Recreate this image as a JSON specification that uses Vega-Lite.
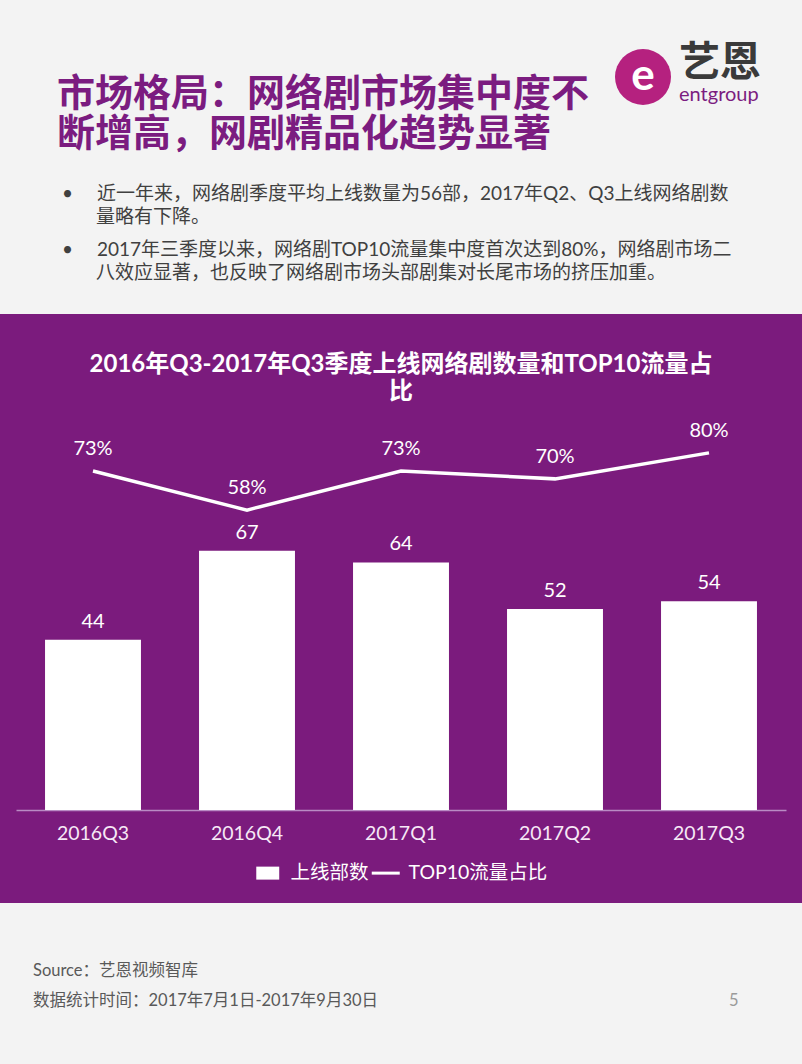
{
  "$schema": "https://vega.github.io/schema/vega-lite/v6.json",
  "background": "#f3f3f3",
  "padding": 0,
  "spacing": 0,
  "config": {
    "view": {"stroke": null, "fill": "#f3f3f3"},
    "title": {"font": "Lato, 'Noto Sans CJK SC'", "fontSize": 19, "fontWeight": "normal", "color": "#404040", "anchor": "start", "frame": "group"}
  },
  "vconcat": [
    {
      "spacing": 0,
      "hconcat": [
        {
          "width": 610,
          "height": 154,
          "data": {"values": [{}]},
          "mark": {"type": "text"},
          "title": {
            "text": ["市场格局：网络剧市场集中度不", "断增高，网剧精品化趋势显著"],
            "font": "Noto Sans CJK SC",
            "fontSize": 38,
            "fontWeight": "bold",
            "color": "#7B1C80",
            "lineHeight": 40,
            "dx": 57,
            "offset": -154
          }
        },
        {
          "width": 66,
          "height": 154,
          "data": {"values": [{"logo": "e"}]},
          "layer": [
            {
              "mark": {"type": "point", "shape": "circle", "filled": true, "size": 3136, "color": "#B5217F", "opacity": 1},
              "encoding": {}
            },
            {
              "mark": {"type": "text", "fontSize": 44, "fontWeight": "bold", "color": "#ffffff", "font": "Lato", "baseline": "middle", "align": "center"},
              "encoding": {"text": {"field": "logo"}}
            }
          ]
        },
        {
          "width": 126,
          "height": 154,
          "data": {"values": [{}]},
          "mark": {"type": "text"},
          "title": {
            "text": "艺恩",
            "subtitle": "entgroup",
            "font": "Noto Sans CJK SC",
            "fontSize": 41,
            "fontWeight": "bold",
            "color": "#3a3a3a",
            "subtitleFont": "Lato",
            "subtitleFontSize": 20,
            "subtitleColor": "#7B1C80",
            "subtitlePadding": 0,
            "dx": 3,
            "offset": -106
          }
        }
      ]
    },
    {
      "width": 802,
      "height": 52,
      "data": {"values": [{}]},
      "mark": {"type": "text"},
      "title": {"text": "•\u00a0\u3000近一年来，网络剧季度平均上线数量为56部，2017年Q2、Q3上线网络剧数", "dx": 62, "offset": -50}
    },
    {
      "width": 802,
      "height": 23,
      "data": {"values": [{}]},
      "mark": {"type": "text"},
      "title": {"text": "量略有下降。", "dx": 96, "offset": -21}
    },
    {
      "width": 802,
      "height": 33,
      "data": {"values": [{}]},
      "mark": {"type": "text"},
      "title": {"text": "•\u00a0\u30002017年三季度以来，网络剧TOP10流量集中度首次达到80%，网络剧市场二", "dx": 62, "offset": -31}
    },
    {
      "width": 802,
      "height": 52,
      "data": {"values": [{}]},
      "mark": {"type": "text"},
      "title": {"text": "八效应显著，也反映了网络剧市场头部剧集对长尾市场的挤压加重。", "dx": 96, "offset": -21}
    },
    {
      "width": 802,
      "height": 589,
      "view": {"fill": "#7B1B7D", "stroke": null},
      "title": {
        "text": ["2016年Q3-2017年Q3季度上线网络剧数量和TOP10流量占", "比"],
        "font": "Lato, 'Noto Sans CJK SC'",
        "fontSize": 24,
        "fontWeight": "bold",
        "color": "#ffffff",
        "lineHeight": 27,
        "anchor": "middle",
        "frame": "group",
        "offset": -90
      },
      "data": {
        "values": [
          {"quarter": "2016Q3", "count": 44, "share": 0.73},
          {"quarter": "2016Q4", "count": 67, "share": 0.58},
          {"quarter": "2017Q1", "count": 64, "share": 0.73},
          {"quarter": "2017Q2", "count": 52, "share": 0.70},
          {"quarter": "2017Q3", "count": 54, "share": 0.80}
        ]
      },
      "encoding": {
        "x": {
          "field": "quarter",
          "type": "nominal",
          "sort": null,
          "scale": {"range": [16, 786], "paddingInner": 0.377, "paddingOuter": 0.1885},
          "axis": {
            "title": null,
            "orient": "bottom",
            "offset": -93,
            "domainColor": "#B98BC4",
            "domainWidth": 1.5,
            "ticks": false,
            "tickSize": 0,
            "labelAngle": 0,
            "labelFont": "Lato",
            "labelFontSize": 19.5,
            "labelColor": "#F6E8F6",
            "labelBaseline": "middle",
            "labelPadding": 23,
            "grid": false
          }
        }
      },
      "layer": [
        {
          "mark": {"type": "bar", "color": "#ffffff"},
          "encoding": {
            "y": {"field": "count", "type": "quantitative", "scale": {"domain": [-24, 128.2], "nice": false, "zero": false}, "axis": null},
            "y2": {"datum": 0},
            "color": {
              "datum": "上线部数",
              "scale": {"domain": ["上线部数", "TOP10流量占比"], "range": ["#ffffff", "#ffffff"]},
              "legend": {
                "orient": "none",
                "legendX": 258,
                "legendY": 863,
                "direction": "horizontal",
                "title": null,
                "padding": 0,
                "labelColor": "#ffffff",
                "labelFont": "Lato, 'Noto Sans CJK SC'",
                "labelFontSize": 19.5,
                "labelOffset": 13,
                "columnPadding": -4,
                "symbolSize": 784,
                "encode": {
                  "symbols": {
                    "update": {
                      "shape": {"signal": "datum.value === '上线部数' ? 'M-0.82,-0.464H0.82V0.464H-0.82Z' : 'stroke'"},
                      "fill": {"signal": "datum.value === '上线部数' ? '#ffffff' : 'transparent'"},
                      "stroke": {"value": "#ffffff"},
                      "strokeWidth": {"signal": "datum.value === '上线部数' ? 0 : 3"},
                      "size": {"value": 784},
                      "opacity": {"value": 1}
                    }
                  }
                }
              }
            }
          }
        },
        {
          "mark": {"type": "text", "color": "#ffffff", "font": "Lato", "fontSize": 20, "baseline": "alphabetic", "dy": -12},
          "encoding": {
            "y": {"field": "count", "type": "quantitative", "scale": {"domain": [-24, 128.2], "nice": false, "zero": false}, "axis": null},
            "text": {"field": "count", "type": "quantitative"}
          }
        },
        {
          "mark": {"type": "line", "strokeWidth": 3.5},
          "encoding": {
            "y": {"field": "share", "type": "quantitative", "scale": {"domain": [-0.931, 1.334], "nice": false, "zero": false}, "axis": null},
            "color": {"datum": "TOP10流量占比"}
          }
        },
        {
          "mark": {"type": "text", "color": "#ffffff", "font": "Lato", "fontSize": 20, "baseline": "alphabetic", "dy": -16},
          "encoding": {
            "y": {"field": "share", "type": "quantitative", "scale": {"domain": [-0.931, 1.334], "nice": false, "zero": false}, "axis": null},
            "text": {"field": "share", "type": "quantitative", "format": ".0%"}
          }
        }
      ],
      "resolve": {"scale": {"y": "independent"}, "axis": {"y": "independent"}}
    },
    {
      "spacing": 0,
      "hconcat": [
        {
          "width": 700,
          "height": 161,
          "data": {"values": [{}]},
          "mark": {"type": "text"},
          "title": {
            "text": ["Source：艺恩视频智库", "数据统计时间：2017年7月1日-2017年9月30日"],
            "fontSize": 16.5,
            "color": "#595959",
            "lineHeight": 30,
            "dx": 33,
            "offset": -106.5
          }
        },
        {
          "width": 102,
          "height": 161,
          "data": {"values": [{}]},
          "mark": {"type": "text"},
          "title": {
            "text": "5",
            "font": "Lato",
            "fontSize": 16.5,
            "color": "#9a9a9a",
            "dx": 29,
            "offset": -106.5
          }
        }
      ]
    }
  ]
}
